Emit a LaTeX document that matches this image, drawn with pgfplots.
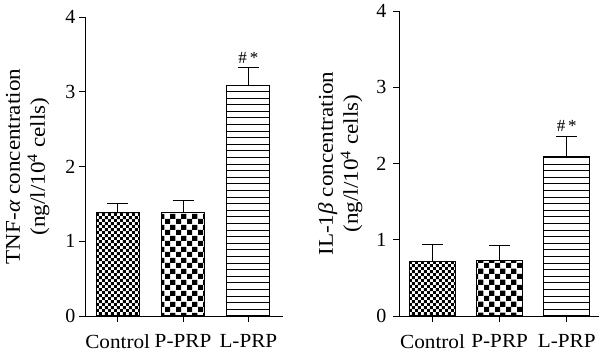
\documentclass[border=0pt]{standalone}
\usepackage{pgfplots}
\pgfplotsset{compat=1.18}
\usepackage{fontspec}
\setmainfont{Liberation Serif}
\usetikzlibrary{patterns}

\pgfdeclarepatternformonly{finecheck}{\pgfpointorigin}{\pgfqpoint{6.4pt}{6.4pt}}{\pgfqpoint{6.4pt}{6.4pt}}{%
  \pgfpathrectangle{\pgfpointorigin}{\pgfqpoint{3.25pt}{3.25pt}}%
  \pgfpathrectangle{\pgfqpoint{3.2pt}{3.2pt}}{\pgfqpoint{3.25pt}{3.25pt}}%
  \pgfusepath{fill}}
\pgfdeclarepatternformonly{coarsecheck}{\pgfpointorigin}{\pgfqpoint{11pt}{11pt}}{\pgfqpoint{11pt}{11pt}}{%
  \pgfpathrectangle{\pgfpointorigin}{\pgfqpoint{5.55pt}{5.55pt}}%
  \pgfpathrectangle{\pgfqpoint{5.5pt}{5.5pt}}{\pgfqpoint{5.55pt}{5.55pt}}%
  \pgfusepath{fill}}
\pgfdeclarepatternformonly{hlinesb}{\pgfqpoint{-1pt}{-0.1pt}}{\pgfqpoint{7.6pt}{1.1pt}}{\pgfqpoint{6.6pt}{6.6pt}}{%
  \pgfsetlinewidth{1pt}%
  \pgfpathmoveto{\pgfqpoint{-0.5pt}{0.5pt}}%
  \pgfpathlineto{\pgfqpoint{7.1pt}{0.5pt}}%
  \pgfusepath{stroke}}

\pgfplotsset{
  myaxis/.style={
    scale only axis,
    axis x line*=bottom,
    axis y line*=left,
    ymin=0, ymax=4,
    ytick={0,1,2,3,4},
    xtick={0,1,2},
    xticklabels={Control,P-PRP,L-PRP},
    tick align=outside,
    major tick length=6pt,
    axis line style={line width=0.9pt, black},
    every tick/.style={line width=0.9pt, black},
    yticklabel style={font=\fontsize{20}{22}\selectfont},
    xticklabel style={font=\fontsize{20}{22}\selectfont, xscale=1.06, yshift=-9pt},
    /pgf/number format/assume math mode=true,
    ybar,
    bar shift=0pt,
    ylabel style={align=center, font=\fontsize{21}{25}\selectfont, anchor=center, xscale=1.1},
    every axis plot/.append style={draw=black, line width=1pt},
    error bars/y dir=plus,
    error bars/y explicit,
    error bars/error mark=|,
    error bars/error bar style={line width=1pt, black},
    error bars/error mark options={mark size=10.5pt, line width=1pt, black},
  }
}

\begin{document}
\begin{tikzpicture}
\path[use as bounding box] (0,0) rectangle (600pt,356pt);

\begin{axis}[myaxis,
  at={(85pt,40pt)}, anchor=south west,
  width=198pt, height=299pt,
  xmin=-0.5, xmax=2.53,
  bar width=43pt,
  ylabel={TNF-\textit{α} concentration\\(ng/l/10\textsuperscript{4} cells)},
  ylabel style={at={(axis description cs:-0.29,0.5)}},
]
\addplot[pattern=finecheck] coordinates {(0,1.38) +- (0,0.13)};
\addplot[pattern=coarsecheck] coordinates {(1,1.38) +- (0,0.16)};
\addplot[pattern=hlinesb] coordinates {(2,3.08) +- (0,0.25)};
\node[above, inner sep=3pt, font=\fontsize{17}{19}\selectfont] at (axis cs:2,3.33) {\#\,*};
\end{axis}

\begin{axis}[myaxis,
  at={(399pt,40pt)}, anchor=south west,
  width=200pt, height=305pt,
  xmin=-0.5, xmax=2.48,
  bar width=46pt,
  yticklabel style={xshift=-3pt},
  ylabel={IL-1\textit{β} concentration\\(ng/l/10\textsuperscript{4} cells)},
  ylabel style={at={(axis description cs:-0.294,0.5)}},
]
\addplot[pattern=finecheck] coordinates {(0,0.72) +- (0,0.22)};
\addplot[pattern=coarsecheck] coordinates {(1,0.73) +- (0,0.20)};
\addplot[pattern=hlinesb] coordinates {(2,2.09) +- (0,0.26)};
\node[above, inner sep=5pt, font=\fontsize{17}{19}\selectfont] at (axis cs:2,2.35) {\#\,*};
\end{axis}
\end{tikzpicture}
\end{document}
